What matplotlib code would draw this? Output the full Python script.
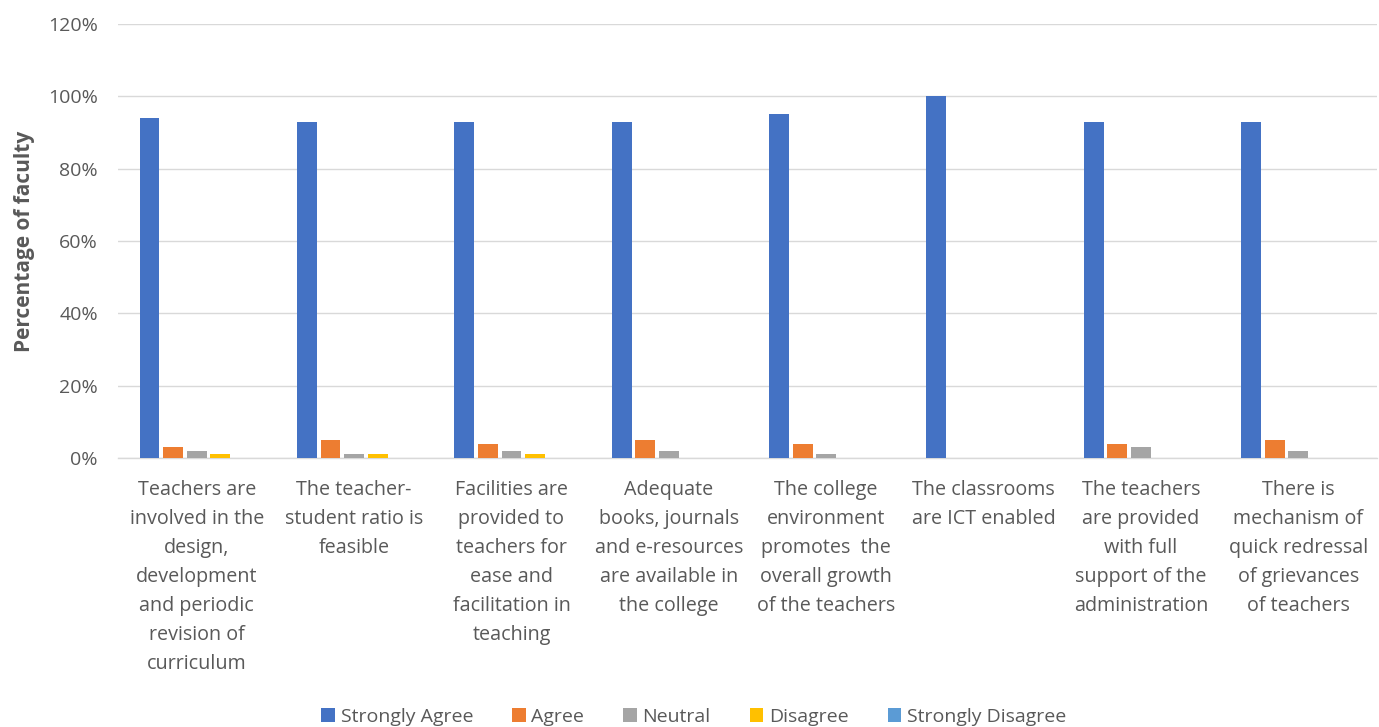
import numpy as np
import matplotlib
matplotlib.use("Agg")
import matplotlib.pyplot as plt
from matplotlib.ticker import PercentFormatter

categories = [
    "Teachers are\ninvolved in the\ndesign,\ndevelopment\nand periodic\nrevision of\ncurriculum",
    "The teacher-\nstudent ratio is\nfeasible",
    "Facilities are\nprovided to\nteachers for\nease and\nfacilitation in\nteaching",
    "Adequate\nbooks, journals\nand e-resources\nare available in\nthe college",
    "The college\nenvironment\npromotes  the\noverall growth\nof the teachers",
    "The classrooms\nare ICT enabled",
    "The teachers\nare provided\nwith full\nsupport of the\nadministration",
    "There is\nmechanism of\nquick redressal\nof grievances\nof teachers",
]
series_names = ["Strongly Agree", "Agree", "Neutral", "Disagree", "Strongly Disagree"]
strongly_agree = [94, 93, 93, 93, 95, 100, 93, 93]
agree = [3, 5, 4, 5, 4, 0, 4, 5]
neutral = [2, 1, 2, 2, 1, 0, 3, 2]
disagree = [1, 1, 1, 0, 0, 0, 0, 0]
strongly_disagree = [0, 0, 0, 0, 0, 0, 0, 0]
colors = ["#4472C4", "#ED7D31", "#A5A5A5", "#FFC000", "#5B9BD5"]

plt.rcParams['font.family'] = ['Open Sans', 'DejaVu Sans']

fig = plt.figure(figsize=(13.79, 7.27), dpi=100)
ax = fig.add_axes([0.0856, 0.370, 0.913, 0.597])

x = np.arange(len(categories))
slot = 0.15
width = 0.126
all_series = [strongly_agree, agree, neutral, disagree, strongly_disagree]
for i, (name, vals) in enumerate(zip(series_names, all_series)):
    ax.bar(x + (i - 2) * slot, vals, width, color=colors[i], label=name, zorder=3)

ax.set_xlim(-0.5, len(categories) - 0.5)
ax.set_ylim(0, 120)
ax.set_yticks(np.arange(0, 121, 20))
ax.yaxis.set_major_formatter(PercentFormatter(decimals=0))
ax.grid(axis="y", color="#D9D9D9", linewidth=1, zorder=0)
for s in ["top", "right", "left"]:
    ax.spines[s].set_visible(False)
ax.spines["bottom"].set_color("#D9D9D9")
ax.spines["bottom"].set_linewidth(1)
ax.tick_params(axis="both", length=0, colors="#595959")
ax.tick_params(axis="y", pad=14.5, labelsize=14)
ax.tick_params(axis="x", pad=16, labelsize=14.2)
ax.set_xticks(x)
ax.set_xticklabels(categories, linespacing=1.6, va="top")

ax.set_ylabel("Percentage of faculty", fontsize=15, fontweight="bold", color="#595959")
ax.yaxis.set_label_coords(-0.066, 0.5)

fig.legend(*ax.get_legend_handles_labels(), loc="center", bbox_to_anchor=(0.503, 0.014),
           ncol=5, frameon=False, fontsize=14, handlelength=0.7, handleheight=0.7,
           handletextpad=0.3, columnspacing=2.0, labelcolor="#595959")

plt.savefig("out.png", dpi=100)
plt.close()
